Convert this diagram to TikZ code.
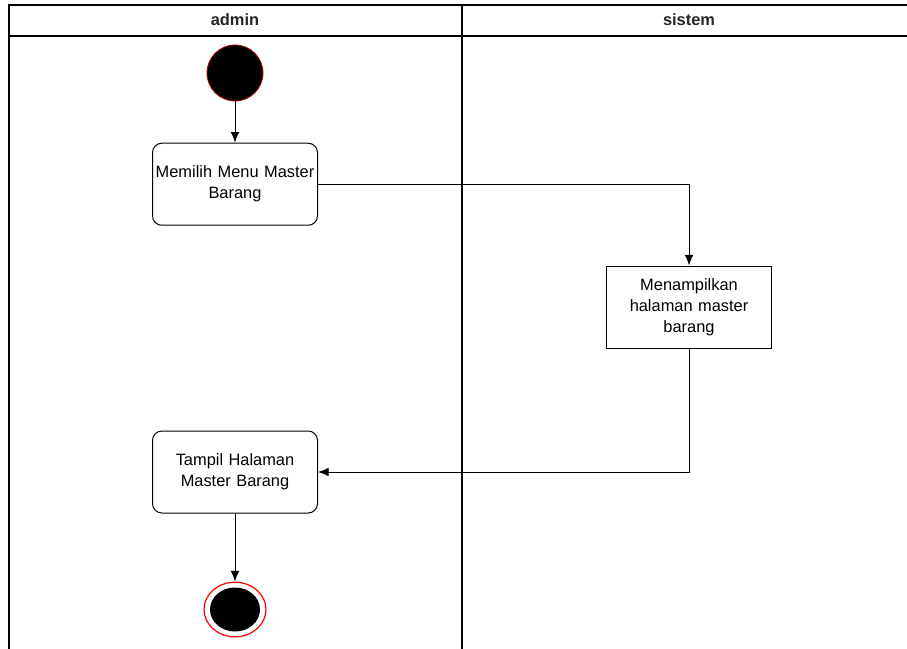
\documentclass[tikz,border=0pt]{standalone}
\usepackage{fontspec}
\setmainfont{Liberation Sans}
\usetikzlibrary{arrows.meta,shapes,positioning}
\definecolor{startred}{HTML}{B20000}
\definecolor{endred}{HTML}{FF0000}

\begin{document}
\begin{tikzpicture}[x=0.75pt, y=-0.75pt, >={Latex[length=8pt,width=6.5pt]},
    action/.style={draw, fill=white, rounded corners=7pt, minimum width=123.75pt, minimum height=61.5pt, inner xsep=0pt, text width=122pt, align=center, font=\fontsize{12.3}{15.75}\selectfont, line width=0.75pt},
    sysaction/.style={action, rounded corners=0pt},
    flow/.style={->, line width=0.75pt},
    lane/.style={font=\fontsize{12.3}{15}\selectfont\bfseries, text=black!85}]
    \useasboundingbox (0,0) rectangle (907,649);

    % swimlanes
    \draw[line width=1pt] (9,649) -- (9,5) -- (907,5);
    \draw[line width=0.8pt] (9,36) -- (907,36);
    \draw[line width=0.8pt] (462,5) -- (462,649);
    \node[lane] (lane_admin) at (235,20) {admin};
    \node[lane] (lane_sistem) at (689,20) {sistem};

    % nodes
    \node[circle, fill=black, draw=startred, line width=0.6pt, minimum size=42pt, inner sep=0pt] (start) at (235,73) {};
    \node[action, below=31pt of start] (choose_menu) {Memilih Menu Master\\Barang};
    \node[sysaction] (show_page) at (689,307) {Menampilkan\\halaman master\\barang};
    \node[action] (show_result) at (235,472) {Tampil Halaman\\Master Barang};
    \node[ellipse, draw=endred, line width=0.9pt, minimum width=46.5pt, minimum height=41pt, inner sep=0pt] (finish) at (235,609.5) {};
    \node[ellipse, fill=black, minimum width=37.5pt, minimum height=33pt, inner sep=0pt] (finish_dot) at (finish) {};

    % flow
    \draw[flow] (start) -- (choose_menu);
    \draw[flow] (choose_menu.east) -| (show_page.north);
    \draw[flow] (show_page.south) |- (show_result.east);
    \draw[flow] (show_result) -- (finish);
\end{tikzpicture}
\end{document}
